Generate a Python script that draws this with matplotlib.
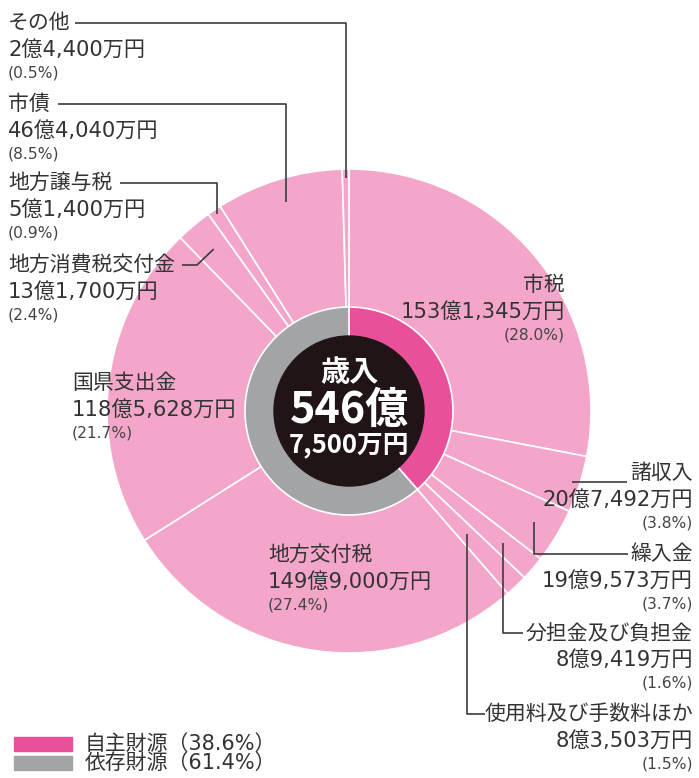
import matplotlib

matplotlib.use("Agg")
import matplotlib.pyplot as plt  # noqa: E402
from matplotlib.patches import Circle, Rectangle  # noqa: E402
import numpy as np  # noqa: E402

CJK = ["Noto Sans CJK JP", "Noto Sans CJK SC", "Noto Sans CJK TC", "Noto Sans CJK KR"]
plt.rcParams["font.family"] = CJK + ["DejaVu Sans"]
WIDE = ["DejaVu Sans"] + CJK  # wider digits, kanji falls back to Noto

# 歳入の内訳（単位：万円）、時計回りに市税から
categories = ["市税", "諸収入", "繰入金", "分担金及び負担金", "使用料及び手数料ほか",
              "地方交付税", "国県支出金", "地方消費税交付金", "地方譲与税", "市債", "その他"]
amounts = [1531345, 207492, 199573, 89419, 83503,
           1499000, 1185628, 131700, 51400, 464040, 24400]
shares = [28.0, 3.8, 3.7, 1.6, 1.5, 27.4, 21.7, 2.4, 0.9, 8.5, 0.5]

source_groups = ["自主財源", "依存財源"]
source_shares = [38.6, 61.4]

W, H = 699, 778
CX, CY = 349, H - 411
R_OUT = 242
R_RING = 104
R_CORE = 75

PINK_LIGHT = "#f3a6c9"
PINK = "#e8509a"
GRAY = "#a3a4a6"
CORE = "#211416"
TXT = "#333333"
LINE = "#3c3c3c"


def yen(v):
    """万円 -> 'X億Y,YYY万円'"""
    return f"{v // 10000}億{v % 10000:,}万円"


# label layout: (x, y of name line in px from top, ha, leader kind, leader x, anchor radius)
layout = {
    "市税": (565, 285, "right", None, None, None),
    "諸収入": (693, 473, "right", "h", 627, 234),
    "繰入金": (693, 554, "right", "elbow", 628, 216),
    "分担金及び負担金": (693, 633, "right", "elbow", 523, 203),
    "使用料及び手数料ほか": (693, 714, "right", "elbow", 485, 170),
    "地方交付税": (268, 555, "left", None, None, None),
    "国県支出金": (72, 383, "left", None, None, None),
    "地方消費税交付金": (8, 265, "left", "diag", 182, 211),
    "地方譲与税": (8, 183, "left", "elbow", 120, 237),
    "市債": (8, 104, "left", "elbow", 58, 218),
    "その他": (8, 23, "left", "elbow", 75, 233),
}

fig = plt.figure(figsize=(W / 100, H / 100), dpi=100)
ax = fig.add_axes([0, 0, 1, 1])

wedges, _ = ax.pie(amounts, colors=[PINK_LIGHT] * len(amounts), startangle=90,
                   counterclock=False, center=(CX, CY), radius=R_OUT,
                   wedgeprops=dict(edgecolor="white", linewidth=1.2))
ax.pie(source_shares, colors=[PINK, GRAY], startangle=90, counterclock=False,
       center=(CX, CY), radius=R_RING,
       wedgeprops=dict(width=R_RING - R_CORE + 2, edgecolor="white", linewidth=1.2))
ax.add_patch(Circle((CX, CY), R_CORE, color=CORE, zorder=3))

total = yen(sum(amounts))
ax.text(CX, CY - (372 - 411), "歳入", color="white", fontsize=21, fontweight="bold",
        ha="center", va="center", zorder=4)
ax.text(CX, CY - (410 - 411), total.split("億")[0] + "億", color="white",
        fontsize=31, fontweight="bold", ha="center", va="center", zorder=4)
ax.text(CX, CY - (445 - 411), total.split("億")[1], color="white",
        fontsize=18.5, fontweight="bold", ha="center", va="center", zorder=4)

for name, amt, pct, w in zip(categories, amounts, shares, wedges):
    x, y, ha, kind, lx, r = layout[name]
    ty = H - y
    ax.text(x, ty, name, fontsize=15, color=TXT, ha=ha, va="center")
    ax.text(x, ty - 27, yen(amt), fontsize=15.2, color=TXT, ha=ha, va="center",
            family=WIDE)
    ax.text(x, ty - 50, f"({pct}%)", fontsize=11.2, color="#444444", ha=ha,
            va="center", family=WIDE)
    if kind is None:
        continue
    mid = np.deg2rad((w.theta1 + w.theta2) / 2)
    axx, ayy = CX + r * np.cos(mid), CY + r * np.sin(mid)
    if kind == "h":
        xs, ys = [axx, lx], [ayy, ayy]
    elif kind == "elbow":
        xs, ys = [axx, axx, lx], [ayy, ty, ty]
    else:
        xs, ys = [axx, lx + 15, lx], [ayy, ty, ty]
    ax.plot(xs, ys, color=LINE, lw=1.2, zorder=5, solid_capstyle="butt")

# 凡例
for i, (grp, pct, col) in enumerate(zip(source_groups, source_shares, [PINK, GRAY])):
    yc = H - (744 + 19 * i)
    ax.add_patch(Rectangle((14, yc - 7), 58, 14, color=col))
    ax.text(85, yc, f"{grp}（{pct}%）", fontsize=15, color=TXT, ha="left", va="center",
            family=WIDE)

ax.set_xlim(0, W)
ax.set_ylim(0, H)
ax.set_aspect("equal")
ax.axis("off")
fig.savefig("out.png", dpi=100)
